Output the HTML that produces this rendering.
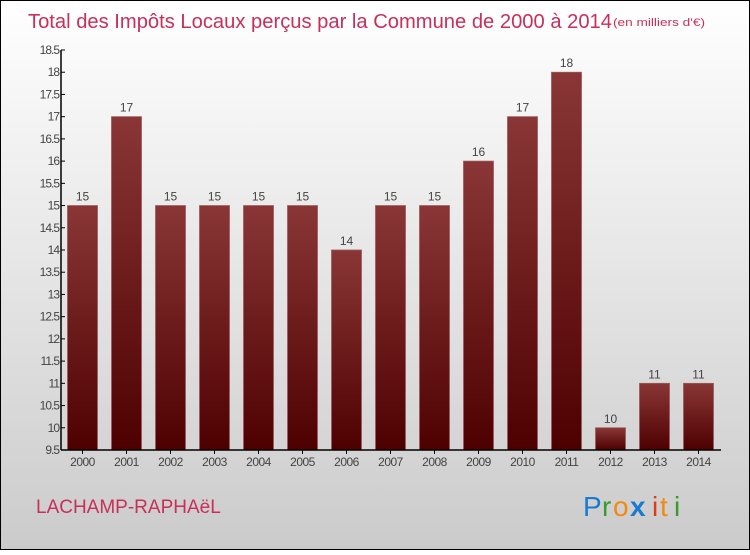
<!DOCTYPE html>
<html><head><meta charset="utf-8"><style>
html,body{margin:0;padding:0}
body{width:750px;height:550px;overflow:hidden;font-family:"Liberation Sans",sans-serif}
</style></head><body>
<svg id="c" width="750" height="550" xmlns="http://www.w3.org/2000/svg">
<defs>
<linearGradient id="bg" x1="0" y1="0" x2="0" y2="1"><stop offset="0" stop-color="#ffffff"/><stop offset="1" stop-color="#cbcbcb"/></linearGradient>
<linearGradient id="bar" x1="0" y1="0" x2="0" y2="1"><stop offset="0" stop-color="#8a3636"/><stop offset="1" stop-color="#4e0000"/></linearGradient>
</defs>
<rect x="0.5" y="0.5" width="749" height="549" fill="url(#bg)" stroke="#000"/>
<text x="28" y="28" font-size="20" fill="#c8305a" textLength="584" lengthAdjust="spacingAndGlyphs">Total des Impôts Locaux perçus par la Commune de 2000 à 2014</text>
<text x="613" y="26" font-size="11" fill="#c8305a" textLength="92" lengthAdjust="spacingAndGlyphs">(en milliers d'€)</text>
<g id="yaxis"></g><g id="bars"></g><g id="xaxis"></g>
<text x="36" y="513" font-size="19" fill="#c8305a">LACHAMP-RAPHAëL</text>
<g font-size="28">
<text x="583" y="516" fill="#1a7ad0">P</text><text x="602" y="516" fill="#3a9a2a">r</text><text x="613" y="516" fill="#f08a10">o</text><text x="630" y="516" fill="#1a7ad0" font-weight="bold">x</text><text x="652" y="516" fill="#e03a1a">i</text><text x="660" y="516" fill="#f08a10">t</text><text x="674" y="516" fill="#3a9a2a">i</text>
</g>
</svg>
<script>
const years=["2000","2001","2002","2003","2004","2005","2006","2007","2008","2009","2010","2011","2012","2013","2014"];
const values=[15,17,15,15,15,15,14,15,15,16,17,18,10,11,11];
const yTicks=[9.5,10,10.5,11,11.5,12,12.5,13,13.5,14,14.5,15,15.5,16,16.5,17,17.5,18,18.5];
const NS="http://www.w3.org/2000/svg";
const y0=450,y1=50,vmin=9.5,vmax=18.5;
function yS(v){return y0-(v-vmin)/(vmax-vmin)*(y0-y1);}
function xS(i){return 82.5+i*44;}
function mk(t,a,p){const e=document.createElementNS(NS,t);for(const k in a)e.setAttribute(k,a[k]);p.appendChild(e);return e;}
const ya=document.getElementById('yaxis'),ba=document.getElementById('bars'),xa=document.getElementById('xaxis');
const yl=mk('line',{x1:61,y1:y1,x2:61,y2:y0,stroke:'#000','stroke-width':1.5},ya);


yTicks.forEach(v=>{
 const y=yS(v);
 mk('line',{x1:61,y1:y,x2:65,y2:y,stroke:'#000'},ya);
 const t=mk('text',{x:59,y:y+4,'text-anchor':'end','font-size':12,fill:'#444','letter-spacing':'-1'},ya);
 t.textContent=String(v);
 
 
});
const xl=mk('line',{x1:61,y1:y0,x2:721,y2:y0,stroke:'#000','stroke-width':1.5},xa);


years.forEach((yr,i)=>{
 const cx=xS(i),top=yS(values[i]);
 const r=mk('rect',{x:cx-15,y:top,width:30,height:y0-top,fill:'url(#bar)',stroke:'#9a5a5a','stroke-width':0.8},ba);
 
 
 const l=mk('text',{x:cx,y:top-5,'text-anchor':'middle','font-size':12,fill:'#444'},ba);
 l.textContent=String(values[i]);
 
 
 mk('line',{x1:cx,y1:y0,x2:cx,y2:y0+4,stroke:'#000'},xa);
 const t=mk('text',{x:cx,y:y0+16,'text-anchor':'middle','font-size':12,fill:'#444','letter-spacing':'-0.5'},xa);
 t.textContent=yr;
 
 
});
</script>
</body></html>
